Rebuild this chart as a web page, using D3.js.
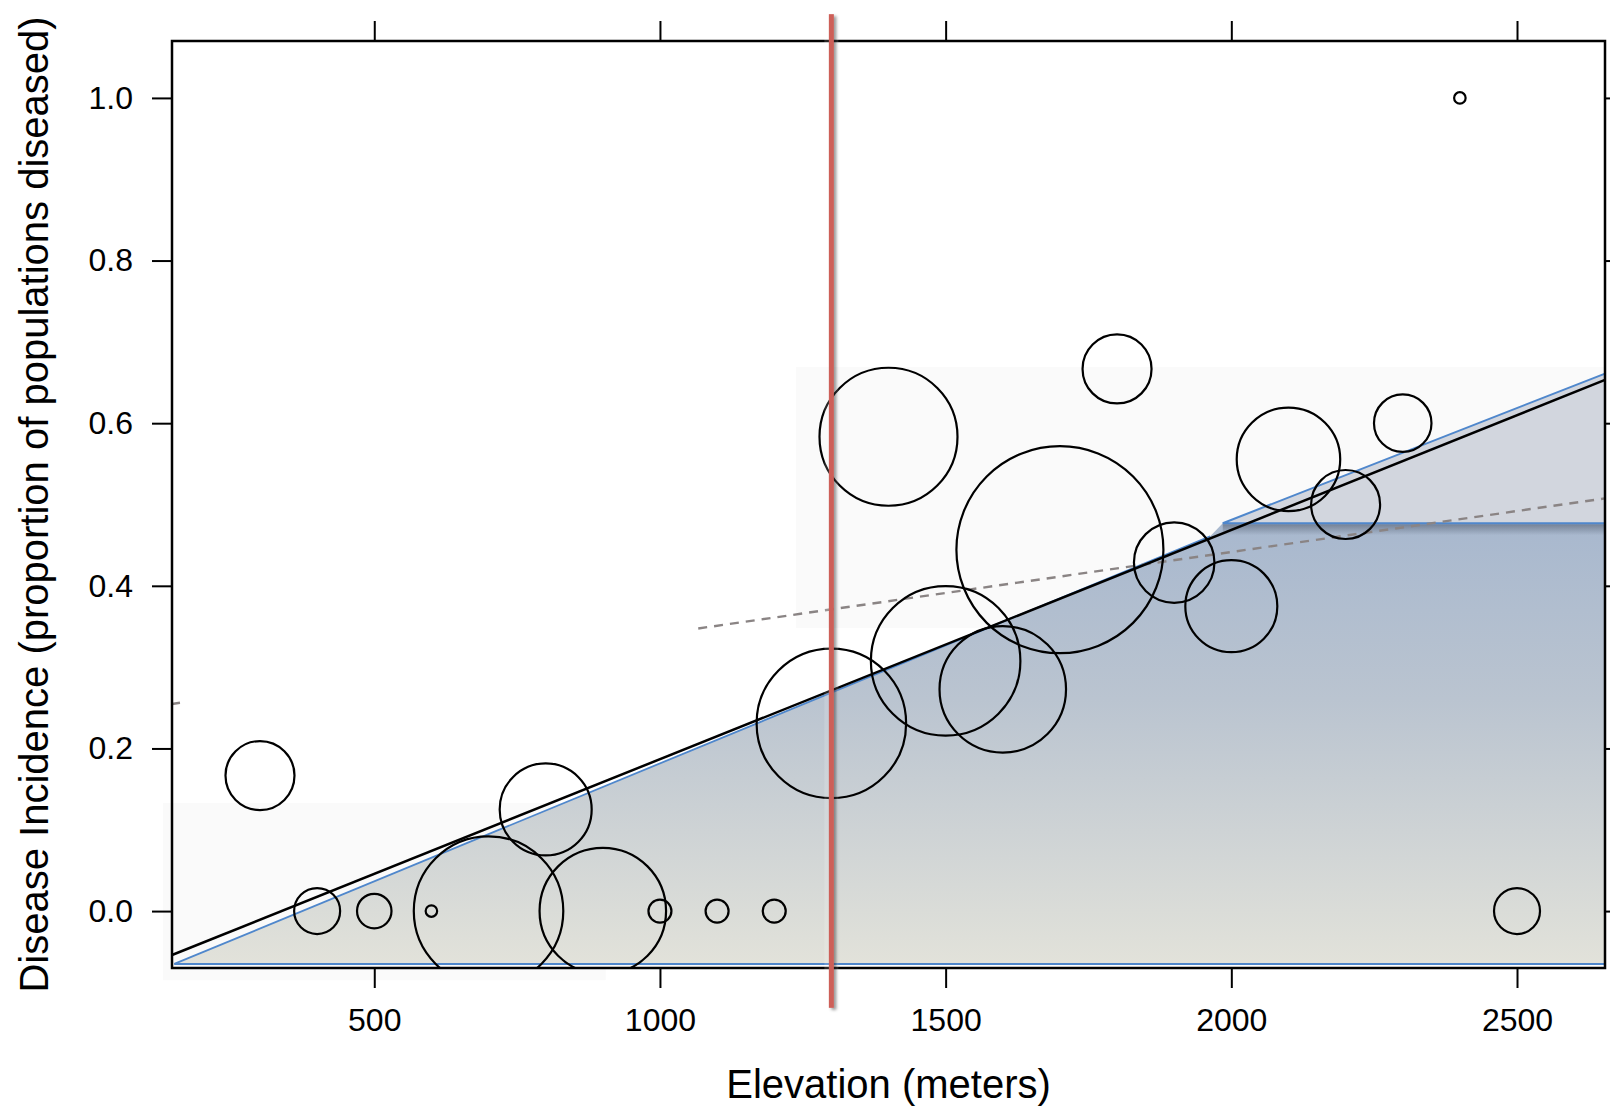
<!DOCTYPE html>
<html>
<head>
<meta charset="utf-8">
<script src="https://cdn.jsdelivr.net/npm/d3@7"></script>
<style>
  html, body { margin: 0; padding: 0; background: #fff; }
  svg { display: block; font-family: Helvetica, Arial, "Liberation Sans", sans-serif; }
</style>
</head>
<body>
<svg id="grafico" width="1610" height="1110"></svg>
<script>
// elevation (m) of each sampled site, diseased populations and total populations
const elevacao = [300, 400, 500, 600, 700, 800, 900, 1000, 1100, 1200, 1300, 1400,
                  1500, 1600, 1700, 1800, 1900, 2000, 2100, 2200, 2300, 2400, 2500];
const doentes  = [1, 0, 0, 0, 0, 1, 0, 0, 0, 0, 3, 7, 4, 3, 8, 4, 3, 3, 5, 3, 3, 1, 0];
const total    = [6, 4, 3, 1, 13, 8, 11, 2, 2, 2, 13, 12, 13, 11, 18, 6, 7, 8, 9, 6, 5, 1, 4];

const ticksX = [500, 1000, 1500, 2000, 2500];
const ticksY = [0, 0.2, 0.4, 0.6, 0.8, 1.0];

// fitted lines: [intercept, slope]
const retaSolida = [-0.0952, 0.000282];
const retaTracejada = [0.240, 0.0001008];
const trechoTracejado = [1067, 2654];
const tocoTracejado = [146, 160];

// elevation threshold (red line) and its extent
const limiar = 1300;
const limiarY = [-0.119, 1.103];

// shaded wedge under the trend (data units)
const cunhaAzul = [[150, -0.065], [1963, 0.461], [1985, 0.477], [2654, 0.477], [2654, -0.065]];
const cunhaCinza = [[1985, 0.477], [2654, 0.661], [2654, 0.477]];
const patamar = 0.477;

// pale background patches
const manchas = [
  [1238, 2654, 0.348, 0.669],
  [130, 1245, -0.07, 0.133],
  [130, 905, -0.085, -0.07]
];

const svg = d3.select("#grafico");
const x = d3.scaleLinear().domain([146, 2654]).range([172, 1605]);
const y = d3.scaleLinear().domain([-0.07, 1.07]).range([968, 41]);
const r = d3.scaleLinear().domain([0, 1]).range([0, 5.75]);

const defs = svg.append("defs");
const grad = defs.append("linearGradient").attr("id", "gradAzul")
  .attr("gradientUnits", "userSpaceOnUse")
  .attr("x1", 0).attr("x2", 0).attr("y1", y(patamar)).attr("y2", y(-0.065));
grad.append("stop").attr("offset", 0).attr("stop-color", "#a8b8ce");
grad.append("stop").attr("offset", 0.4).attr("stop-color", "#bac4d0");
grad.append("stop").attr("offset", 1).attr("stop-color", "#e2e2da");

const gradSombra = defs.append("linearGradient").attr("id", "gradSombra")
  .attr("x1", 0).attr("x2", 0).attr("y1", 0).attr("y2", 1);
gradSombra.append("stop").attr("offset", 0).attr("stop-color", "#4a5568").attr("stop-opacity", 0.55);
gradSombra.append("stop").attr("offset", 1).attr("stop-color", "#4a5568").attr("stop-opacity", 0);

const sombra = defs.append("filter").attr("id", "sombra")
  .attr("filterUnits", "userSpaceOnUse")
  .attr("x", 0).attr("y", 0).attr("width", 1610).attr("height", 1110);
sombra.append("feDropShadow").attr("dx", 2.5).attr("dy", 2).attr("stdDeviation", 1.6)
  .attr("flood-color", "#000").attr("flood-opacity", 0.4);

defs.append("clipPath").attr("id", "painel").append("rect")
  .attr("x", x.range()[0]).attr("y", y.range()[1])
  .attr("width", x.range()[1] - x.range()[0]).attr("height", y.range()[0] - y.range()[1]);

const linha = d3.line().x(d => x(d[0])).y(d => y(d[1]));

// background patches
svg.append("g").selectAll("rect").data(manchas).enter().append("rect")
  .attr("x", d => x(d[0])).attr("width", d => x(d[1]) - x(d[0]))
  .attr("y", d => y(d[3])).attr("height", d => y(d[2]) - y(d[3]))
  .attr("fill", "#fafafa");

// wedge
svg.append("path").attr("d", linha(cunhaAzul) + "Z").attr("fill", "url(#gradAzul)");
svg.append("path").attr("d", linha(cunhaCinza) + "Z").attr("fill", "#d2d6de");
svg.append("rect")
  .attr("x", x(cunhaCinza[0][0])).attr("width", x(2654) - x(cunhaCinza[0][0]))
  .attr("y", y(patamar) + 1).attr("height", 11)
  .attr("fill", "url(#gradSombra)");

const azul = "#4f87cc";
svg.append("path").attr("d", linha([cunhaAzul[0], cunhaAzul[1]]))
  .attr("fill", "none").attr("stroke", azul).attr("stroke-width", 1.8);
svg.append("path").attr("d", linha([cunhaAzul[0], [2654, -0.065], [2654, 0.661]]))
  .attr("fill", "none").attr("stroke", azul).attr("stroke-width", 2);
svg.append("path").attr("d", linha([cunhaCinza[2], cunhaCinza[0], cunhaCinza[1]]))
  .attr("fill", "none").attr("stroke", azul).attr("stroke-width", 2);

// fitted lines
const ajuste = (c, xs) => xs.map(e => [e, c[0] + c[1] * e]);
svg.append("path").attr("d", linha(ajuste(retaTracejada, trechoTracejado)))
  .attr("fill", "none").attr("stroke", "#8a8484").attr("stroke-width", 2.4)
  .attr("stroke-dasharray", "9,7");
svg.append("path").attr("d", linha(ajuste(retaTracejada, tocoTracejado)))
  .attr("fill", "none").attr("stroke", "#8a8484").attr("stroke-width", 2.4);
svg.append("path").attr("d", linha(ajuste(retaSolida, x.domain())))
  .attr("fill", "none").attr("stroke", "#000").attr("stroke-width", 2.5);

// sites
const pontos = elevacao.map((e, i) => ({ e: e, p: doentes[i] / total[i], n: total[i] }));
svg.append("g").attr("clip-path", "url(#painel)")
  .selectAll("circle").data(pontos).enter().append("circle")
  .attr("cx", d => x(d.e)).attr("cy", d => y(d.p)).attr("r", d => r(d.n))
  .attr("fill", "none").attr("stroke", "#000").attr("stroke-width", 2.2);

// axes on all four sides, labels on left and bottom
const estilo = g => {
  g.select(".domain").remove();
  g.selectAll(".tick line").attr("stroke", "#000").attr("stroke-width", 2);
  g.selectAll(".tick text").attr("font-size", 32).attr("fill", "#000")
    .attr("font-family", "Helvetica, Arial, 'Liberation Sans', sans-serif");
};
svg.append("g").attr("transform", `translate(0,${y.range()[0]})`)
  .call(d3.axisBottom(x).tickValues(ticksX).tickSize(20).tickPadding(20).tickFormat(d3.format("d")))
  .call(estilo);
svg.append("g").attr("transform", `translate(0,${y.range()[1]})`)
  .call(d3.axisTop(x).tickValues(ticksX).tickSize(20).tickFormat(() => "")).call(estilo);
svg.append("g").attr("transform", `translate(${x.range()[0]},0)`)
  .call(d3.axisLeft(y).tickValues(ticksY).tickSize(20).tickPadding(19).tickFormat(d3.format(".1f")))
  .call(estilo);
svg.append("g").attr("transform", `translate(${x.range()[1]},0)`)
  .call(d3.axisRight(y).tickValues(ticksY).tickSize(20).tickFormat(() => "")).call(estilo);

svg.append("rect")
  .attr("x", x.range()[0]).attr("y", y.range()[1])
  .attr("width", x.range()[1] - x.range()[0]).attr("height", y.range()[0] - y.range()[1])
  .attr("fill", "none").attr("stroke", "#000").attr("stroke-width", 2.5);

// titles
svg.append("text")
  .attr("x", (x.range()[0] + x.range()[1]) / 2).attr("y", 1098)
  .attr("text-anchor", "middle").attr("font-size", 40)
  .text("Elevation (meters)");
svg.append("text")
  .attr("transform", `translate(48,${(y.range()[0] + y.range()[1]) / 2}) rotate(-90)`)
  .attr("text-anchor", "middle").attr("font-size", 40)
  .text("Disease Incidence (proportion of populations diseased)");

// threshold
const xl = x(limiar), y0 = y(limiarY[1]), y1 = y(limiarY[0]);
svg.append("rect")
  .attr("x", xl - 7).attr("width", 14).attr("y", y0).attr("height", y1 - y0)
  .attr("fill", "#fff").attr("opacity", 0.15);
svg.append("rect")
  .attr("x", xl - 2.5).attr("width", 5).attr("y", y0).attr("height", y1 - y0)
  .attr("fill", "#cd5f58").attr("filter", "url(#sombra)");
</script>
</body>
</html>
